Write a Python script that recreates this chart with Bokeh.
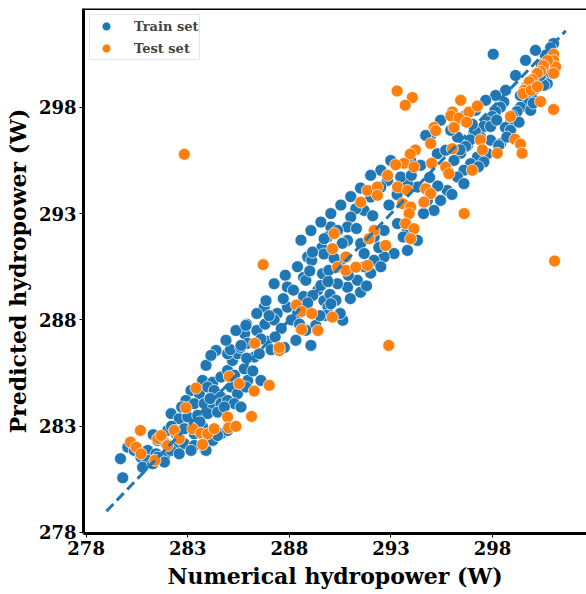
from bokeh.plotting import figure
from bokeh.models import Range1d, FixedTicker, Span
from bokeh.embed import file_html
from bokeh.resources import INLINE

ticks = [278, 283, 288, 293, 298]
ideal = [279.0, 301.6]

train_pts = [
    (279.69, 281.47), (279.8, 280.57),
    (283.73, 285.15), (284.23, 285.07), (284.63, 285.31), (284.96, 285.62), (285.2, 286.09), (285.45, 286.41),
    (285.78, 285.7), (285.95, 285.15), (286.27, 286.25), (286.52, 286.41), (286.6, 285.15),
    (283.16, 284.68), (283.57, 284.53), (283.98, 284.84), (284.3, 284.68), (284.63, 284.37), (285.13, 284.84),
    (285.45, 284.53), (285.86, 284.84),
    (282.91, 284.21), (283.32, 284.06), (283.81, 284.06), (284.23, 283.82), (284.63, 284.06), (284.96, 284.21),
    (285.29, 284.06), (285.62, 283.9),
    (282.18, 283.59), (282.58, 283.35), (283.0, 283.43), (283.49, 283.51), (283.98, 283.59), (284.47, 283.66),
    (282.01, 282.8), (282.42, 282.64), (282.83, 282.88), (283.32, 282.64), (283.73, 282.96), (284.14, 282.48),
    (284.63, 282.64), (284.96, 282.8),
    (281.52, 282.33), (281.93, 282.17), (282.34, 282.01), (282.83, 282.17), (283.32, 282.09), (283.81, 282.01),
    (284.23, 282.33), (284.47, 282.56),
    (281.03, 281.86), (281.44, 281.7), (281.85, 281.54), (282.18, 281.86), (282.58, 281.7), (283.16, 281.86),
    (283.9, 281.86),
    (280.05, 282.01), (280.37, 281.86), (280.7, 281.54), (281.03, 281.39), (280.78, 281.07), (281.28, 281.23),
    (281.52, 281.54), (281.85, 281.31),
    (284.96, 286.41), (288.9, 290.96), (289.1, 290.8), (289.6, 291.4), (289.7, 291.1), (290.04, 292.37),
    (287.25, 289.7), (287.8, 290.1), (287.9, 289.55), (288.4, 290.5), (288.7, 290.0),
    (286.76, 288.6), (286.85, 288.9), (287.4, 288.3), (287.9, 288.6), (288.4, 288.3), (288.7, 289.1), (289.4, 289.4),
    (286.4, 288.3), (285.9, 287.8), (285.8, 287.35), (286.4, 287.5), (286.8, 287.8), (287.25, 288.0), (287.6, 287.6),
    (288.1, 288.0),
    (285.1, 286.6), (285.6, 286.7), (285.95, 286.9), (286.9, 287.0), (287.75, 286.7), (287.1, 286.6),
    (289.7, 288.9), (289.9, 288.6), (290.0, 289.2), (289.63, 290.17), (289.87, 291.9),
    (288.81, 289.86), (289.15, 289.15), (289.55, 289.62), (289.94, 290.33), (290.29, 288.92), (289.79, 288.21),
    (289.3, 287.74), (288.81, 287.51), (288.32, 287.04), (289.06, 286.8), (290.53, 290.8), (290.63, 287.98),
    (284.39, 286.56), (284.88, 287.04), (285.37, 287.5), (285.86, 287.74), (285.62, 286.8), (283.9, 285.86),
    (284.14, 286.33),
    (294.95, 296.68), (295.28, 295.82), (296.27, 296.6), (296.76, 296.21), (297.08, 296.76), (297.57, 297.07),
    (297.9, 296.45), (298.39, 296.29), (297.74, 295.82), (297.25, 295.66), (297.57, 295.43), (296.92, 295.35),
    (296.59, 295.04), (296.27, 294.72), (296.59, 294.41), (295.77, 294.09), (295.44, 293.62), (295.12, 293.15),
    (294.79, 293.62), (294.3, 294.25), (293.81, 294.41), (293.48, 294.72), (292.83, 294.56), (292.5, 294.25),
    (292.0, 293.78), (291.68, 293.15), (291.27, 293.23), (291.02, 292.84), (290.86, 292.37), (290.37, 292.21),
    (290.86, 291.74), (291.51, 291.59), (292.17, 291.9), (292.66, 292.21), (293.32, 292.53), (293.81, 292.21),
    (294.3, 291.74), (293.81, 291.27), (293.15, 291.12), (292.66, 290.96), (292.17, 290.8), (291.68, 291.12),
    (291.35, 289.86), (290.86, 289.54), (290.37, 289.7), (290.04, 288.76),
    (298.03, 300.5), (301.0, 301.0), (300.85, 300.8),
    (300.69, 299.11), (300.53, 299.04), (300.1, 298.88), (299.95, 298.4), (299.7, 298.18), (299.37, 298.0),
    (299.2, 297.8), (298.97, 297.6), (298.9, 297.36), (298.63, 297.05), (298.55, 298.25), (298.38, 298.0),
    (298.14, 297.8), (297.98, 297.57), (297.73, 297.33), (297.56, 297.1), (297.4, 296.6), (297.15, 296.86),
    (296.9, 296.47), (296.67, 296.16), (296.43, 295.84), (296.1, 295.5),
    (299.37, 298.56), (299.87, 297.86), (298.88, 296.92), (298.3, 296.2), (300.36, 299.5), (300.6, 300.45),
    (300.11, 300.68), (299.62, 300.21), (299.13, 299.5), (298.64, 298.8), (298.15, 298.56), (297.66, 298.33),
    (297.16, 297.86), (296.67, 297.62),
    (295.44, 297.39), (295.94, 296.92), (294.71, 296.68), (295.69, 295.98),
    (293.97, 295.5), (294.46, 295.27), (292.99, 295.5), (292.5, 295.04), (292.0, 294.8),
    (288.57, 291.75), (289.06, 292.2), (289.55, 292.6), (290.04, 293.0), (290.53, 293.4), (291.02, 293.8),
    (291.5, 294.2), (289.14, 291.19), (289.71, 291.82),
    (291.0, 289.0), (291.5, 289.3), (290.5, 288.3), (292.0, 290.2), (292.5, 290.5), (291.8, 289.6),
    (281.3, 282.6), (282.2, 283.0), (282.7, 283.9), (283.6, 283.2), (284.1, 284.3), (284.8, 283.9),
    (285.3, 285.4), (285.9, 286.2), (286.2, 285.6), (286.6, 287.1), (287.0, 288.2), (287.3, 287.2),
    (287.7, 289.0), (288.2, 289.4), (288.5, 287.8), (289.0, 290.3), (289.5, 288.2), (290.2, 290.9),
    (290.6, 291.6), (290.9, 290.1), (291.3, 292.3), (291.7, 290.5), (292.1, 292.9), (292.4, 291.4),
    (292.9, 293.4), (293.3, 293.9), (293.6, 291.9), (294.0, 294.8), (294.6, 293.0), (294.9, 294.7),
    (295.3, 294.3), (295.8, 295.0), (296.0, 293.9), (296.4, 296.0), (297.0, 297.2), (297.3, 295.2),
    (297.9, 297.1), (298.2, 297.4), (298.7, 296.6), (299.3, 297.3), (299.7, 299.0), (300.0, 298.2),
    (300.4, 300.0), (300.9, 299.6), (289.9, 289.8), (288.9, 288.8),
]

test_pts = [
    (280.18, 282.25), (280.67, 282.8), (280.46, 282.01), (280.7, 281.7), (281.39, 281.39), (281.52, 282.41),
    (281.69, 282.56), (282.01, 282.09), (282.34, 282.8), (282.58, 282.41), (282.91, 283.87), (283.24, 282.88),
    (283.65, 282.67), (283.98, 282.64), (283.73, 282.14), (284.3, 282.88), (283.41, 284.79), (285.04, 285.34),
    (285.53, 285.0), (286.27, 284.65), (287.01, 284.92), (286.14, 283.46), (284.96, 283.43), (285.01, 282.93),
    (285.37, 282.99), (287.5, 286.56),
    (282.83, 295.79), (286.71, 290.6), (288.35, 288.7), (288.6, 288.4), (289.1, 288.3), (288.6, 287.55),
    (289.4, 287.5), (286.3, 286.9), (287.5, 286.7),
    (292.83, 294.8), (297.0, 295.04), (295.69, 295.19), (295.85, 294.88),
    (291.84, 294.09), (291.51, 293.54), (292.33, 294.25), (292.33, 293.86), (293.32, 294.25), (293.81, 294.09),
    (294.71, 294.17), (294.95, 293.94), (294.62, 293.54), (293.56, 293.47), (293.97, 293.31), (293.89, 293.0),
    (293.72, 292.53), (294.13, 292.29), (293.97, 291.82), (292.17, 292.21), (291.92, 291.82), (292.74, 291.5),
    (290.78, 290.96), (290.37, 290.48), (290.78, 290.33), (291.27, 290.48), (291.84, 290.56), (290.2, 292.06),
    (290.12, 291.35), (290.12, 288.13),
    (293.3, 298.77), (294.05, 298.46), (293.7, 298.1), (301.0, 300.5), (301.0, 300.2), (301.1, 299.9),
    (300.7, 300.2), (300.5, 299.96), (300.36, 299.7), (300.2, 299.6), (299.95, 299.3), (299.8, 299.2),
    (299.55, 298.8), (299.5, 298.65), (299.9, 298.8), (300.2, 298.97), (300.36, 298.27), (301.0, 297.9),
    (301.0, 299.6),
    (296.43, 298.33), (296.02, 297.78), (295.94, 297.6), (296.35, 297.5), (296.84, 297.78), (297.25, 298.06),
    (296.72, 297.3), (296.1, 297.05), (295.12, 297.05), (295.2, 296.9), (294.95, 296.3), (294.2, 295.99),
    (293.95, 295.8), (296.02, 296.05), (297.4, 296.47), (297.5, 296.0), (298.88, 297.57), (299.1, 296.5),
    (299.37, 296.27), (298.23, 295.84), (299.45, 295.84), (293.64, 295.37), (293.23, 295.3), (294.13, 295.2),
    (295.0, 295.37),
    (292.89, 286.8), (296.6, 293.0), (301.05, 290.77),
]

train_x = [a for a, b in train_pts]
train_y = [b for a, b in train_pts]
test_x = [a for a, b in test_pts]
test_y = [b for a, b in test_pts]

FONT = "DejaVu Serif"
X0, X1 = 277.87, 302.62
Y0, Y1 = 277.95, 302.65

p = figure(width=586, height=594, output_backend="svg", toolbar_location=None,
           x_range=Range1d(X0, X1), y_range=Range1d(Y0, Y1),
           min_border_left=83, min_border_right=0, min_border_top=8, min_border_bottom=61)
p.outline_line_color = None
p.grid.visible = False
p.background_fill_color = "white"
p.border_fill_color = "white"

p.scatter(train_x, train_y, size=12, fill_color="#1f77b4", line_color="white",
          line_width=0.7, legend_label="Train set")
p.scatter(test_x, test_y, size=12, fill_color="#ff7f0e", line_color="white",
          line_width=0.7, legend_label="Test set")
p.line(ideal, ideal, line_color="#1f77b4", line_width=3, line_dash="10 5")

p.add_layout(Span(location=Y1, dimension="width", line_color="black", line_width=3))

for ax in (p.xaxis[0], p.yaxis[0]):
    ax.ticker = FixedTicker(ticks=ticks)
    ax.axis_line_width = 3
    ax.axis_line_color = "black"
    ax.major_tick_in = 0
    ax.major_tick_out = 4
    ax.major_tick_line_width = 1
    ax.minor_tick_line_color = None
    ax.major_label_text_font = FONT
    ax.major_label_text_font_style = "bold"
    ax.major_label_text_font_size = "18px"
    ax.major_label_text_color = "black"
    ax.axis_label_text_font = FONT
    ax.axis_label_text_font_style = "bold"
    ax.axis_label_text_font_size = "22px"
    ax.axis_label_text_color = "black"
    ax.major_label_standoff = 3
    ax.axis_label_standoff = 5

p.xaxis[0].axis_label = "Numerical hydropower (W)"
p.yaxis[0].axis_label = "Predicted hydropower (W)"

lg = p.legend[0]
lg.location = "top_left"
lg.margin = 6
lg.padding = 0
lg.spacing = 0
lg.glyph_width = 32
lg.glyph_height = 22
lg.label_standoff = 12
lg.label_text_font = FONT
lg.label_text_font_style = "bold"
lg.label_text_font_size = "13px"
lg.label_height = 20
lg.border_line_color = "#cccccc"
lg.border_line_width = 1
lg.background_fill_alpha = 0.8

open("out.html", "w").write(file_html(p, INLINE))
